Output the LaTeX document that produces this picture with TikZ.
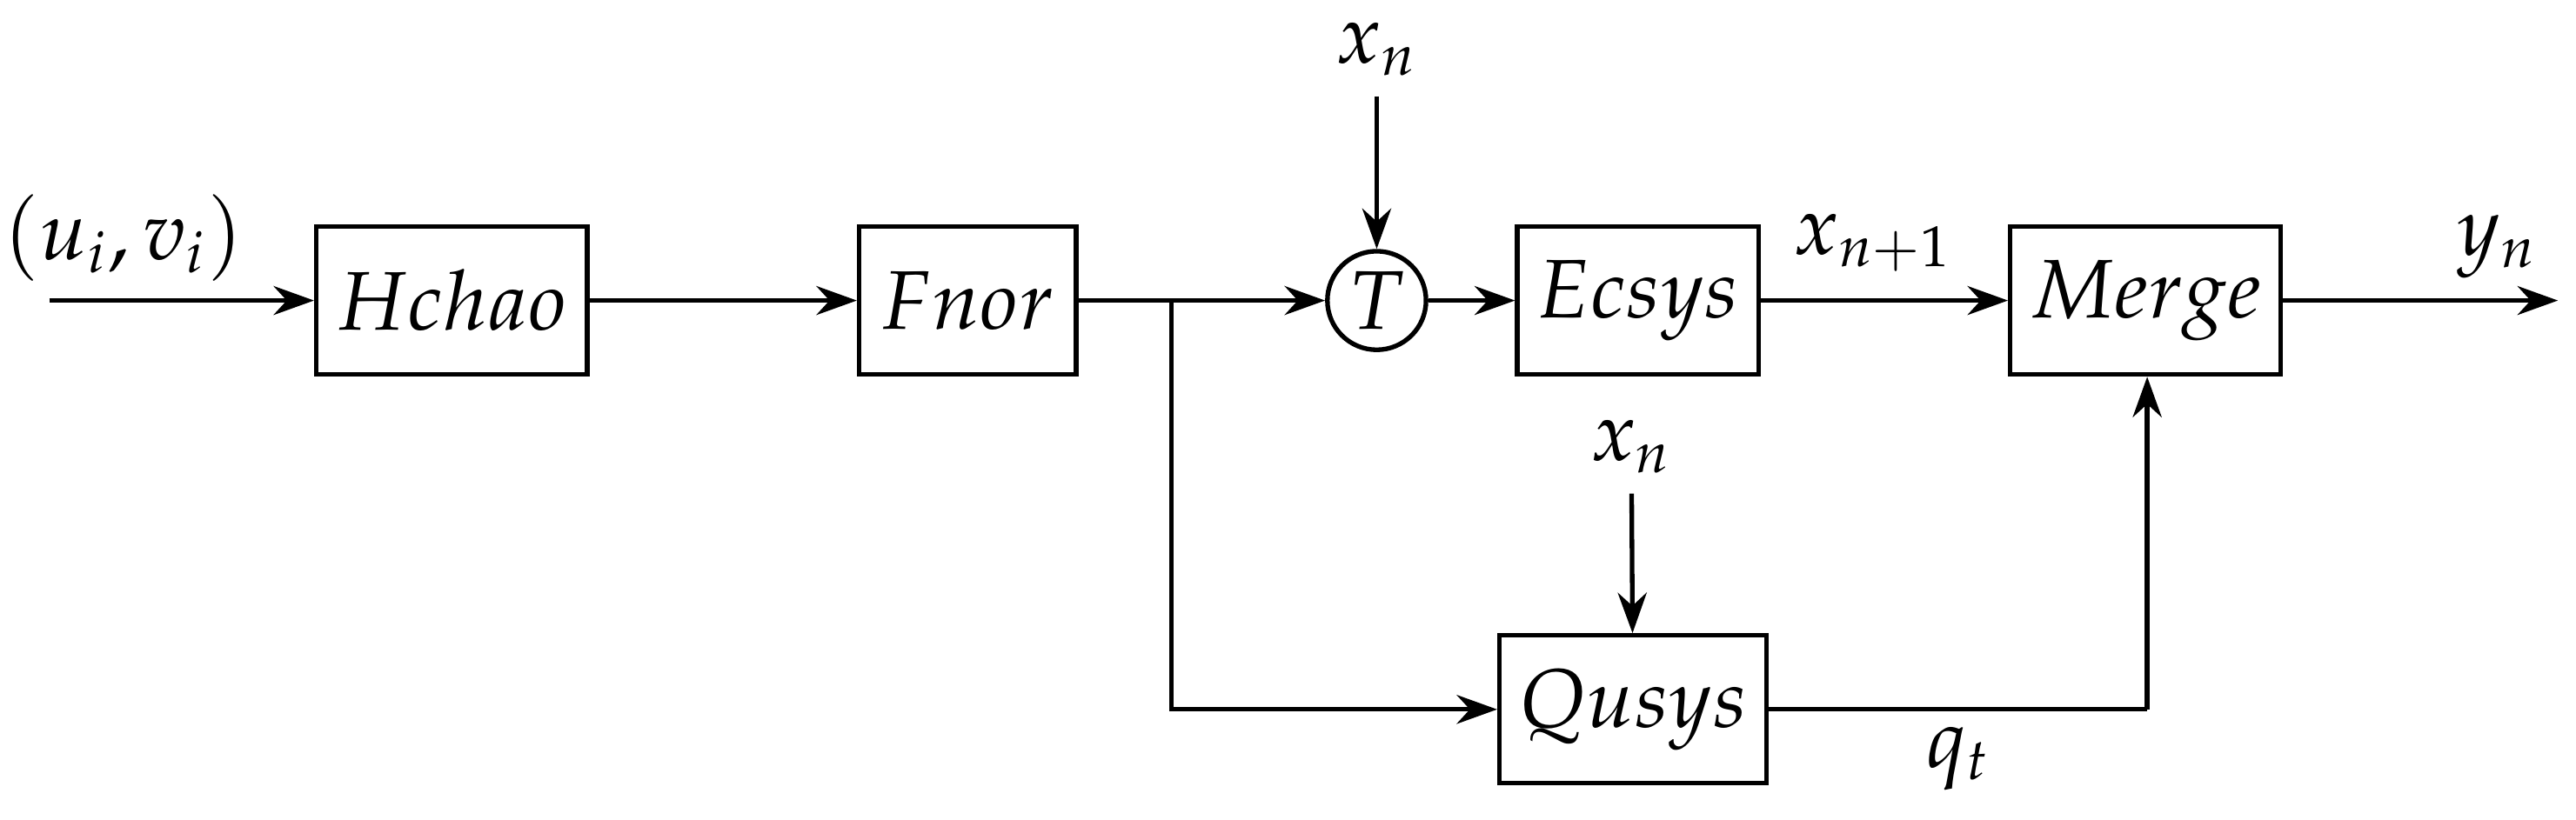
\documentclass[tikz,border=0pt]{standalone}
\usepackage{mathpazo}
\usetikzlibrary{arrows.meta}
\begin{document}
\begin{tikzpicture}[x=0.01cm,y=-0.01cm,
  blk/.style={draw,thick,minimum width=1.4cm,minimum height=0.9cm,font=\Large},
  lbl/.style={font=\Large},
  ar/.style={thick,-{Stealth[length=7pt,width=5pt]}},
  ln/.style={thick}]
\useasboundingbox (0,0) rectangle (1568,499);
\node[blk,minimum width=1.56cm] (h) at (275,183) {$Hchao$};
\node[blk,minimum width=1.32cm] (f) at (589,183) {$Fnor$};
\node[draw,thick,circle,minimum size=0.6cm,inner sep=0pt,font=\Large] (t) at (838,183) {$T$};
\node[blk,minimum width=1.38cm] (e) at (997,183) {$Ecsys$};
\node[blk,minimum width=1.53cm] (m) at (1306,183) {$Merge$};
\node[blk,minimum width=1.48cm] (q) at (994,432) {$Qusys$};
\coordinate (in) at (30,183);
\coordinate (out) at (1557,183);
\coordinate (br) at (713,183);
\coordinate (qc) at (1307,432);
\node[lbl] (uv) at (75,145) {$(u_i,v_i)$};
\node[lbl] (x1) at (838,30) {$x_n$};
\node[lbl] (x2) at (993,272) {$x_n$};
\node[lbl] (xn1) at (1140,148) {$x_{n+1}$};
\node[lbl] (yn) at (1520,150) {$y_n$};
\node[lbl] (qt) at (1192,462) {$q_t$};
\draw[ar] (in) -- (h);
\draw[ar] (h) -- (f);
\draw[ar] (f) -- (t);
\draw[ar] (t) -- (e);
\draw[ar] (e) -- (m);
\draw[ar] (m) -- (out);
\draw[ar] (x1) -- (t);
\draw[ar] (x2) -- (q);
\draw[ar] (br) |- (q);
\draw[ln] (q) -- (qc);
\draw[ar] (qc) -- (m.south -| qc);
\end{tikzpicture}
\end{document}
